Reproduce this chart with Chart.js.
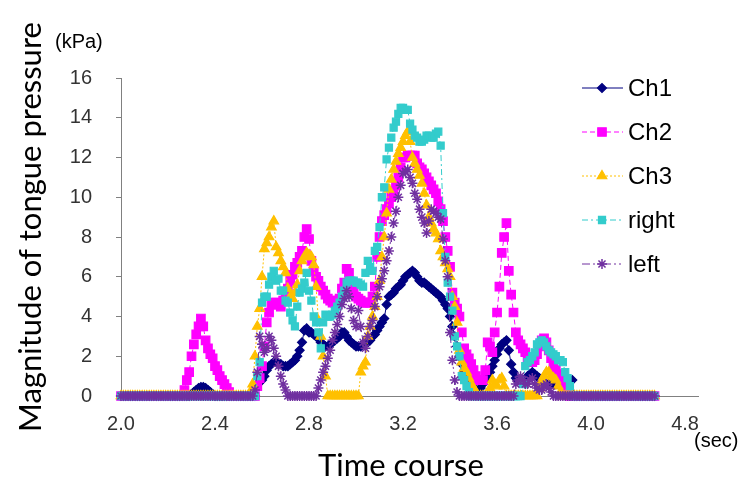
<!DOCTYPE html>
<html>
<head>
<meta charset="utf-8">
<script src="https://cdn.jsdelivr.net/npm/chart.js@4.4.1/dist/chart.umd.min.js"></script>
<style>
  html, body { margin: 0; padding: 0; background: #fff; }
</style>
</head>
<body>
<canvas id="grafica" width="742" height="484"></canvas>
<script>
// Muestreo: cada 0.01 s desde 2.00 s (una fila = 0.1 s)
const inicio = 2.0;
const paso = 0.01;

// Presión de la lengua (kPa) por canal
const ch1 = [
  0,0,0,0,0,0,0,0,0,0,
  0,0,0,0,0,0,0,0,0,0,
  0,0,0,0,0,0,0,0,0,0,
  0.1,0.2,0.3,0.4,0.45,0.45,0.4,0.3,0.2,0.1,
  0,0,0,0,0,0,0,0,0,0,
  0,0,0,0,0,0,0,0,0.6,0.7,
  0.8,1.0,1.3,1.5,1.6,1.7,1.7,1.6,1.6,1.5,
  1.5,1.5,1.6,1.7,1.8,2.0,2.3,2.7,3.3,3.4,
  3.2,3.2,3.1,3.0,2.9,2.7,2.6,2.5,2.5,2.6,
  2.7,2.8,2.9,3.0,3.2,3.2,3.0,2.8,2.7,2.6,
  2.5,2.5,2.5,2.6,2.7,2.7,2.8,3.0,3.1,3.3,
  3.5,3.7,3.9,4.6,5.0,5.1,5.2,5.4,5.5,5.6,
  5.8,6.0,6.1,6.2,6.3,6.2,6.0,5.8,5.7,5.7,
  5.6,5.5,5.4,5.3,5.2,5.1,5.0,4.8,4.6,4.4,
  4.0,3.5,3.0,2.5,2.0,1.6,1.2,0.9,0.7,0.5,
  0.4,0.3,0.3,0.4,0.6,0.8,1.0,1.2,1.5,1.8,
  2.1,2.4,2.6,2.7,2.8,2.3,1.6,1.2,0.9,0.8,
  0.8,0.8,0.8,1.0,1.1,1.2,1.1,1.0,0.9,0.8,
  0.7,0.6,0.6,0.6,0.6,0.6,0.6,0.6,0.6,0.7,
  0.7,0.8,0.8,0,0,0,0,0,0,0,
  0,0,0,0,0,0,0,0,0,0,
  0,0,0,0,0,0,0,0,0,0,
  0,0,0,0,0,0,0,0
];
const ch2 = [
  0,0,0,0,0,0,0,0,0,0,
  0,0,0,0,0,0,0,0,0,0,
  0,0,0,0,0,0,0,0.3,0.8,1.2,
  2.0,2.6,3.1,3.5,3.9,3.5,2.8,2.4,2.1,1.9,
  1.5,1.3,1.0,0.8,0.6,0.4,0.2,0,0,0,
  0,0,0,0,0,0,0,0,0.5,0.9,
  1.5,2.5,3.7,4.2,4.6,4.7,4.7,4.6,4.5,4.8,
  5.0,5.4,5.8,6.1,6.5,6.7,7.0,7.3,8.0,8.4,
  7.9,6.8,6.3,6.0,5.8,5.5,5.3,5.1,4.9,4.8,
  4.7,4.7,4.8,4.9,5.4,5.7,6.4,6.2,5.6,5.3,
  5.0,4.9,4.8,4.7,4.7,4.7,4.7,5.0,5.5,7.0,
  8.0,8.8,9.1,9.4,9.7,10.0,10.3,10.6,11.0,11.5,
  12.0,12.0,12.1,12.1,12.1,12.1,11.7,11.5,11.4,11.2,
  11.0,10.8,10.6,10.4,10.2,9.8,9.4,8.8,8.0,7.3,
  6.5,5.2,4.7,4.4,4.0,3.2,2.4,2.1,1.9,1.6,
  1.3,1.0,0.8,0.8,0.8,1.3,2.7,2.5,2.2,3.2,
  4.2,5.5,7.2,8.0,8.7,6.3,5.1,4.2,3.2,2.8,
  2.6,2.4,2.2,1.9,1.8,1.7,1.8,2.1,2.5,2.8,
  2.9,2.7,2.3,1.9,1.6,1.3,1.1,0.8,0.6,0.4,
  0.2,0,0,0,0,0,0,0,0,0,
  0,0,0,0,0,0,0,0,0,0,
  0,0,0,0,0,0,0,0,0,0,
  0,0,0,0,0,0,0,0
];
const ch3 = [
  0,0,0,0,0,0,0,0,0,0,
  0,0,0,0,0,0,0,0,0,0,
  0,0,0,0,0,0,0,0,0,0,
  0,0,0,0,0,0,0,0,0,0,
  0,0,0,0,0,0,0,0,0,0,
  0,0,0,0,0,0.2,0.6,2.0,3.5,4.4,
  6.0,7.4,7.7,8.0,8.5,8.8,7.5,7.2,6.8,6.5,
  6.2,5.4,5.0,4.9,5.2,5.6,6.3,6.8,7.0,7.2,
  7.1,7.0,6.6,5.5,3.8,3.0,2.0,1.0,0,0,
  0,0,0,0,0,0,0,0,0,0,
  0,0,1.2,1.5,1.7,3.0,3.5,4.0,4.5,5.0,
  5.8,7.0,8.0,9.2,10.4,10.9,11.4,11.8,12.2,12.5,
  12.8,13.1,13.3,12.8,12.0,11.7,11.4,11.1,10.7,10.2,
  9.6,9.0,8.7,8.4,8.2,7.9,7.3,7.0,6.7,6.4,
  6.0,5.0,4.5,3.7,2.3,1.7,1.4,1.2,0.9,0.6,
  0.4,0.2,0,0,0,0,0,0.4,0.8,0.6,
  0.5,0.8,0.9,0.5,0,0,0,0,0,0,
  0,0,0,0,0,0,0,0,0.4,0.8,
  1.0,1.2,1.2,1.0,0.9,0.8,0.5,0.2,0,0,
  0,0,0,0,0,0,0,0,0,0,
  0,0,0,0,0,0,0,0,0,0,
  0,0,0,0,0,0,0,0,0,0,
  0,0,0,0,0,0,0,0
];
const derecha = [
  0,0,0,0,0,0,0,0,0,0,
  0,0,0,0,0,0,0,0,0,0,
  0,0,0,0,0,0,0,0,0,0,
  0,0,0,0,0,0,0,0,0,0,
  0,0,0,0,0,0,0,0,0,0,
  0,0,0,0,0,0,0,0,1.0,1.7,
  4.7,5.0,5.0,5.6,6.0,6.3,5.8,5.9,5.3,5.3,
  4.8,4.7,4.2,3.8,3.5,4.5,5.2,5.4,5.7,6.2,
  5.3,4.8,4.0,3.7,3.2,2.4,3.7,4.1,4.0,4.0,
  4.1,4.3,4.5,4.7,5.0,5.3,5.7,5.8,5.8,5.8,
  5.7,5.7,5.6,5.5,6.2,6.8,6.5,6.3,7.3,7.5,
  8.5,10.0,10.5,11.9,12.5,13.0,13.5,13.8,14.2,14.5,
  14.5,14.4,14.4,13.7,13.4,13.1,13.0,12.8,12.8,12.9,
  13.1,13.1,13.0,13.0,13.2,13.3,12.6,9.2,7.0,5.7,
  5.0,4.3,3.0,2.5,2.0,1.0,0.8,0.5,0.2,0,
  0,0,0,0,0,0,0,0,0,0,
  0,0,0,0,0,0,0,0,0,0,
  0,0.6,1.5,1.7,1.8,2.0,2.2,2.6,2.7,2.8,
  2.7,2.5,2.3,2.2,2.1,2.0,1.8,1.8,1.7,1.2,
  0.9,0.5,0,0,0,0,0,0,0,0,
  0,0,0,0,0,0,0,0,0,0,
  0,0,0,0,0,0,0,0,0,0,
  0,0,0,0,0,0,0,0
];
const izquierda = [
  0,0,0,0,0,0,0,0,0,0,
  0,0,0,0,0,0,0,0,0,0,
  0,0,0,0,0,0,0,0,0,0,
  0,0,0,0,0,0,0,0,0,0,
  0,0,0,0,0,0,0,0,0,0,
  0,0,0,0,0,0,0,0.3,1.2,3.0,
  2.6,2.2,2.4,3.0,2.8,2.4,2.0,1.5,1.0,0.6,
  0.3,0,0,0,0,0,0,0,0,0,
  0,0,0,0,0.4,0.8,1.2,1.5,1.9,2.3,
  2.8,3.2,3.6,4.0,4.6,4.9,5.3,5.0,4.4,3.8,
  3.5,4.3,3.5,2.7,2.4,3.0,3.5,3.8,4.5,5.0,
  5.5,5.9,6.3,6.8,7.3,8.0,8.7,9.3,10.0,10.6,
  11.2,11.3,11.4,11.0,10.7,10.2,9.9,9.4,9.0,8.7,
  8.2,8.8,9.4,9.3,9.2,9.0,8.9,7.9,6.8,6.0,
  3.2,1.8,0.8,0.2,0,0,0,0,0,0,
  0,0,0,0,0,0,0,0,0,0,
  0,0,0,0,0,0,0,0,0.6,0.8,
  1.0,0.8,0.6,0.6,0.8,0.9,0.6,0.4,0.3,0.3,
  0.5,0.6,0.4,0.2,0,0,0,0,0,0,
  0,0,0,0,0,0,0,0,0,0,
  0,0,0,0,0,0,0,0,0,0,
  0,0,0,0,0,0,0,0,0,0,
  0,0,0,0,0,0,0,0
];

// Eje X: posiciones de las marcas y sus etiquetas
const marcasX = [2.0, 2.4, 2.8, 3.2, 3.6, 4.0, 4.4];
const etiquetasX = ['2.0', '2.4', '2.8', '3.2', '3.6', '4.0', '4.8'];

const tiempos = ch1.map((_, i) => +(inicio + i * paso).toFixed(2));

const fuenteTicks = { family: '"Liberation Sans", Arial', size: 20 };

function serie(label, data, color, estilo, radio, grosor, guiones, orden) {
  return {
    label: label,
    data: data,
    borderColor: color,
    backgroundColor: color,
    borderWidth: 1,
    borderDash: guiones,
    pointStyle: estilo,
    pointRadius: radio,
    pointBackgroundColor: color,
    pointBorderColor: color,
    pointBorderWidth: grosor,
    tension: 0,
    clip: false,
    order: orden
  };
}

// Leyenda con línea + marcador y textos de unidades
const leyenda = {
  id: 'leyenda',
  afterDraw(chart) {
    const ctx = chart.ctx;
    ctx.save();
    ctx.fillStyle = '#000';
    ctx.textBaseline = 'middle';

    ctx.font = '20px "Liberation Sans", Arial';
    ctx.textAlign = 'left';
    ctx.fillText('(kPa)', 55, 42);
    ctx.fillText('(sec)', 694, 441);

    ctx.font = '31px Lato';
    ctx.textAlign = 'center';
    ctx.fillText('Time course', 401, 466);
    ctx.translate(31, 227);
    ctx.rotate(-Math.PI / 2);
    ctx.fillText('Magnitude of tongue pressure', 0, 0);
    ctx.restore();

    chart.data.datasets.forEach((ds, i) => {
      const y = 88 + i * 44;
      ctx.save();
      ctx.strokeStyle = ds.borderColor;
      ctx.lineWidth = 1;
      ctx.setLineDash(ds.borderDash || []);
      ctx.beginPath();
      ctx.moveTo(582, y);
      ctx.lineTo(623, y);
      ctx.stroke();
      ctx.setLineDash([]);
      ctx.fillStyle = ds.pointBackgroundColor;
      ctx.strokeStyle = ds.pointBorderColor;
      ctx.lineWidth = ds.pointBorderWidth;
      Chart.helpers.drawPoint(ctx, {
        pointStyle: ds.pointStyle,
        radius: ds.pointRadius,
        borderWidth: ds.pointBorderWidth,
        rotation: 0
      }, 602, y);
      ctx.fillStyle = '#000';
      ctx.font = '24px "Liberation Sans", Arial';
      ctx.textAlign = 'left';
      ctx.textBaseline = 'middle';
      ctx.fillText(ds.label, 628, y + 1);
      ctx.restore();
    });
  }
};

new Chart(document.getElementById('grafica'), {
  type: 'line',
  data: {
    labels: tiempos,
    datasets: [
      serie('Ch1', ch1, '#000080', 'rectRot', 4.5, 1.2, [], 5),
      serie('Ch2', ch2, '#FF00FF', 'rect', 6, 1.2, [5, 3], 4),
      serie('Ch3', ch3, '#FFC000', 'triangle', 5.5, 1.2, [2, 2], 3),
      serie('right', derecha, '#33CCCC', 'rect', 5, 1.2, [6, 3, 2, 3], 2),
      serie('left', izquierda, '#7030A0', 'star', 5, 1.5, [8, 3, 2, 3, 2, 3], 1)
    ]
  },
  options: {
    responsive: false,
    animation: false,
    layout: { padding: { top: 78, right: 44, left: 0, bottom: 0 } },
    plugins: { legend: { display: false }, tooltip: { enabled: false } },
    scales: {
      x: {
        type: 'linear',
        min: 2.0,
        max: 4.455,
        afterFit: s => { s.height = 88; },
        afterBuildTicks: s => { s.ticks = marcasX.map(v => ({ value: v })); },
        ticks: {
          callback: (v, i) => etiquetasX[i],
          font: fuenteTicks,
          color: '#333',
          padding: 16,
          maxRotation: 0,
          autoSkip: false
        },
        grid: { drawOnChartArea: false, drawTicks: false },
        border: { color: '#808080', width: 1 }
      },
      y: {
        min: 0,
        max: 16,
        afterFit: s => { s.width = 121; },
        ticks: { stepSize: 2, font: fuenteTicks, color: '#333', padding: 24 },
        grid: { drawOnChartArea: false, drawTicks: true, tickLength: 5, color: '#808080' },
        border: { color: '#808080', width: 1 }
      }
    }
  },
  plugins: [leyenda]
});
</script>
</body>
</html>
